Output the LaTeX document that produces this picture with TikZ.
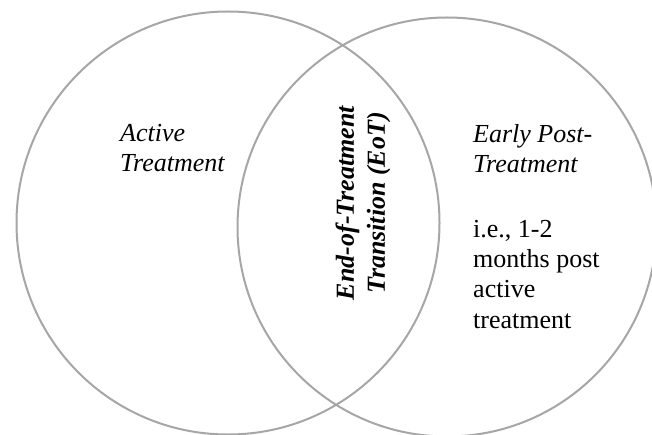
\documentclass[tikz,border=0pt]{standalone}
\usepackage{fontspec}
\setmainfont{Liberation Serif}
\definecolor{ringgray}{RGB}{166,166,166}
\begin{document}
\begin{tikzpicture}[x=1pt,y=-1pt,
  ring/.style={circle, draw=ringgray, line width=2pt, inner sep=0pt, minimum size=#1},
  lbl/.style={inner sep=0pt, align=left, anchor=north west, font=\fontsize{26}{30.2}\selectfont\itshape},
  plain/.style={inner sep=0pt, align=left, anchor=north west, font=\fontsize{26}{30.2}\selectfont},
  mid/.style={inner sep=0pt, align=center, rotate=90, font=\fontsize{26}{31}\selectfont\bfseries\itshape}]
\useasboundingbox[fill=white] (0,0) rectangle (652,435);
\node[ring=423pt] (L) at (228,223) {};
\node[ring=419pt] (R) at (447,227) {};
\node[lbl] (act) at (120,124) {Active\\Treatment};
\node[lbl] (early) at (473,124) {Early Post-\\Treatment};
\node[plain] (ie) at (473,220) {i.e., 1-2\\months post\\active\\treatment};
\node[mid] (eot) at (363,203) {End-of-Treatment\\Transition (EoT)};
\end{tikzpicture}
\end{document}
